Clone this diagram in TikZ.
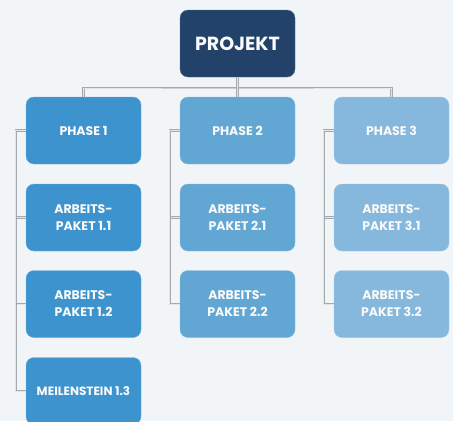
\documentclass[tikz,border=0pt]{standalone}
\usepackage{fontspec}
\setmainfont{Poppins}
\definecolor{bg}{HTML}{F2F5F8}
\definecolor{navy}{HTML}{22426A}
\definecolor{blueA}{HTML}{3D93CD}
\definecolor{blueB}{HTML}{62A7D4}
\definecolor{blueC}{HTML}{85B8DC}
\definecolor{linegray}{HTML}{A4A9AE}

\begin{document}
\begin{tikzpicture}[x=1pt,y=-1pt,
		box/.style={fill=#1, draw=#1!75!white, rounded corners=8pt, minimum width=115pt, minimum height=67pt, inner sep=0pt, align=center, text=white!96!gray, font=\bfseries\fontsize{12.5}{17}\selectfont},
		conn/.style={draw=linegray, double=white!80!gray, double distance=1pt, line width=0.7pt}]
				\fill[bg] (0,0) rectangle (453,421);
				\useasboundingbox (0,0) rectangle (453,421);
				
				\node[box=navy, font=\bfseries\fontsize{19}{22}\selectfont] (proj) at (237.5,43.5) {PROJEKT};
				
				\node[box=blueA] (ph1) at (83.5,130.5) {PHASE 1};
				\node[box=blueB] (ph2) at (237.5,130.5) {PHASE 2};
				\node[box=blueC] (ph3) at (391.5,130.5) {PHASE 3};
				
				\node[box=blueA] (ap11) at (83.5,217.5) {ARBEITS-\\PAKET 1.1};
				\node[box=blueA] (ap12) at (83.5,304) {ARBEITS-\\PAKET 1.2};
				\node[box=blueA, font=\bfseries\fontsize{12}{17}\selectfont] (ms13) at (83.5,391) {MEILENSTEIN 1.3};
				\node[box=blueB] (ap21) at (237.5,217.5) {ARBEITS-\\PAKET 2.1};
				\node[box=blueB] (ap22) at (237.5,304) {ARBEITS-\\PAKET 2.2};
				\node[box=blueC] (ap31) at (391.5,217.5) {ARBEITS-\\PAKET 3.1};
				\node[box=blueC] (ap32) at (391.5,304) {ARBEITS-\\PAKET 3.2};
				
				\coordinate (bus) at (237.5,88);
				\draw[conn] (ph1.north) |- (bus) -| (ph3.north);
				\draw[conn] (proj.south) -- (ph2.north);
				\foreach \p/\c in {ph1/ap11, ph1/ap12, ph1/ms13, ph2/ap21, ph2/ap22, ph3/ap31, ph3/ap32}
					\draw[conn] (\p.west) -- ++(-10,0) |- (\c.west);
			\end{tikzpicture}
\end{document}
